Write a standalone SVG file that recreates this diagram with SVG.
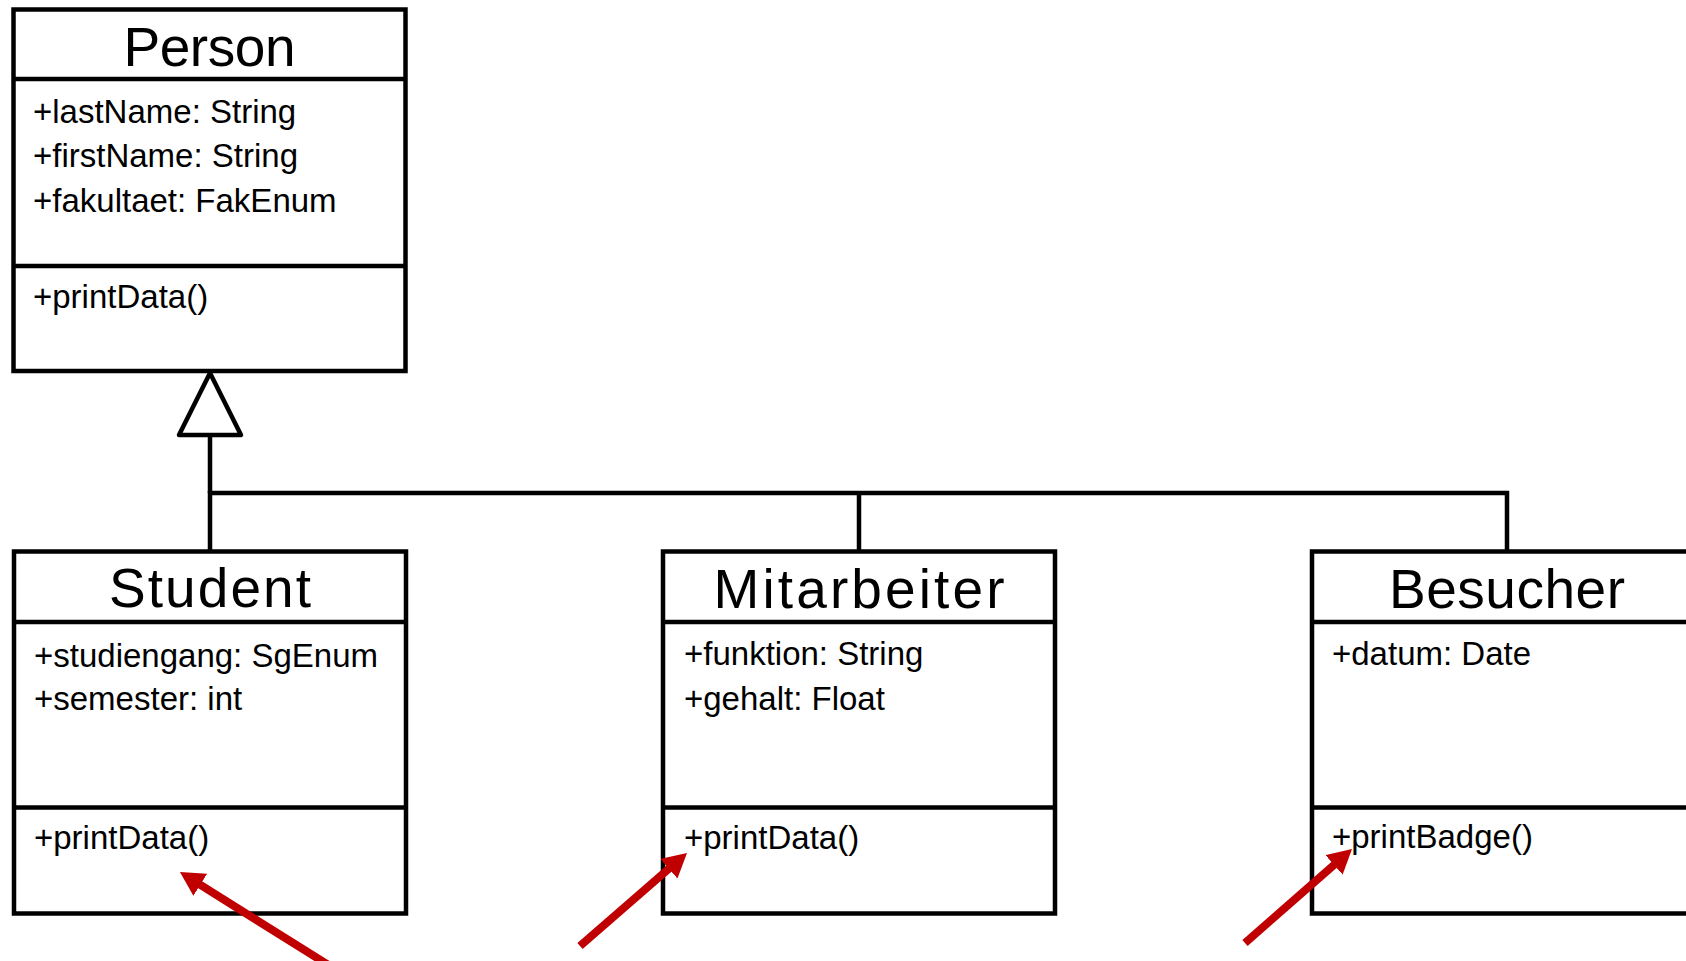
<svg xmlns="http://www.w3.org/2000/svg" width="1686" height="961" viewBox="0 0 1686 961">
  <style>
    .box { fill: #ffffff; stroke: #000000; stroke-width: 4.5; }
    .sep { stroke: #000000; stroke-width: 4.5; }
    .title { font-family: "Liberation Sans", Arial, sans-serif; font-size: 55px; fill: #000000; text-anchor: middle; }
    .member { font-family: "Liberation Sans", Arial, sans-serif; font-size: 33px; fill: #000000; }
    .link { fill: none; stroke: #000000; stroke-width: 4.5; }
    .pointer { fill: none; stroke: #c00000; stroke-width: 8; marker-end: url(#redHead); }
  </style>
  <defs>
    <marker id="redHead" viewBox="0 0 24 26" markerUnits="userSpaceOnUse" markerWidth="24" markerHeight="26" refX="6" refY="13" orient="auto">
      <path d="M0,0 L24,13 L0,26 z" fill="#c00000"/>
    </marker>
  </defs>

  <!-- Superclass -->
  <g id="person">
    <rect class="box" x="13.5" y="9.5" width="392" height="361.5"/>
    <line class="sep" x1="13.5" y1="79" x2="405.5" y2="79"/>
    <line class="sep" x1="13.5" y1="266" x2="405.5" y2="266"/>
    <text class="title" x="209.5" y="66" textLength="172">Person</text>
    <text class="member" x="33" y="123">+lastName: String</text>
    <text class="member" x="33" y="167">+firstName: String</text>
    <text class="member" x="33" y="212">+fakultaet: FakEnum</text>
    <text class="member" x="33" y="308">+printData()</text>
  </g>

  <!-- Subclasses -->
  <g id="student">
    <rect class="box" x="14" y="551.5" width="392" height="362"/>
    <line class="sep" x1="14" y1="622" x2="406" y2="622"/>
    <line class="sep" x1="14" y1="807.5" x2="406" y2="807.5"/>
    <text class="title" x="210" y="607" textLength="202">Student</text>
    <text class="member" x="34" y="667">+studiengang: SgEnum</text>
    <text class="member" x="34" y="710">+semester: int</text>
    <text class="member" x="34" y="849">+printData()</text>
  </g>

  <g id="mitarbeiter">
    <rect class="box" x="663" y="551.5" width="392" height="362"/>
    <line class="sep" x1="663" y1="622" x2="1055" y2="622"/>
    <line class="sep" x1="663" y1="807.5" x2="1055" y2="807.5"/>
    <text class="title" x="859" y="608" textLength="291">Mitarbeiter</text>
    <text class="member" x="684" y="665">+funktion: String</text>
    <text class="member" x="684" y="710">+gehalt: Float</text>
    <text class="member" x="684" y="849">+printData()</text>
  </g>

  <g id="besucher">
    <rect class="box" x="1312" y="551.5" width="392" height="362"/>
    <line class="sep" x1="1312" y1="622" x2="1704" y2="622"/>
    <line class="sep" x1="1312" y1="807.5" x2="1704" y2="807.5"/>
    <text class="title" x="1507" y="608" textLength="236">Besucher</text>
    <text class="member" x="1332" y="665">+datum: Date</text>
    <text class="member" x="1332" y="848">+printBadge()</text>
  </g>

  <!-- Generalization tree -->
  <g id="connectors">
    <polyline class="link" points="210,551.5 210,493 1507,493 1507,551.5"/>
    <line class="link" x1="859" y1="493" x2="859" y2="551.5"/>
    <line class="link" x1="210" y1="493" x2="210" y2="435"/>
    <polygon class="link" points="210,373 241,435 179,435" fill="#ffffff" style="fill:#ffffff" stroke-linejoin="round"/>
  </g>

  <!-- Red pointers to the methods -->
  <g id="pointers">
    <line class="pointer" x1="330" y1="966" x2="195.2" y2="881.6"/>
    <line class="pointer" x1="580" y1="946" x2="673.4" y2="864.8"/>
    <line class="pointer" x1="1245" y1="943" x2="1338.5" y2="860.9"/>
  </g>
</svg>
